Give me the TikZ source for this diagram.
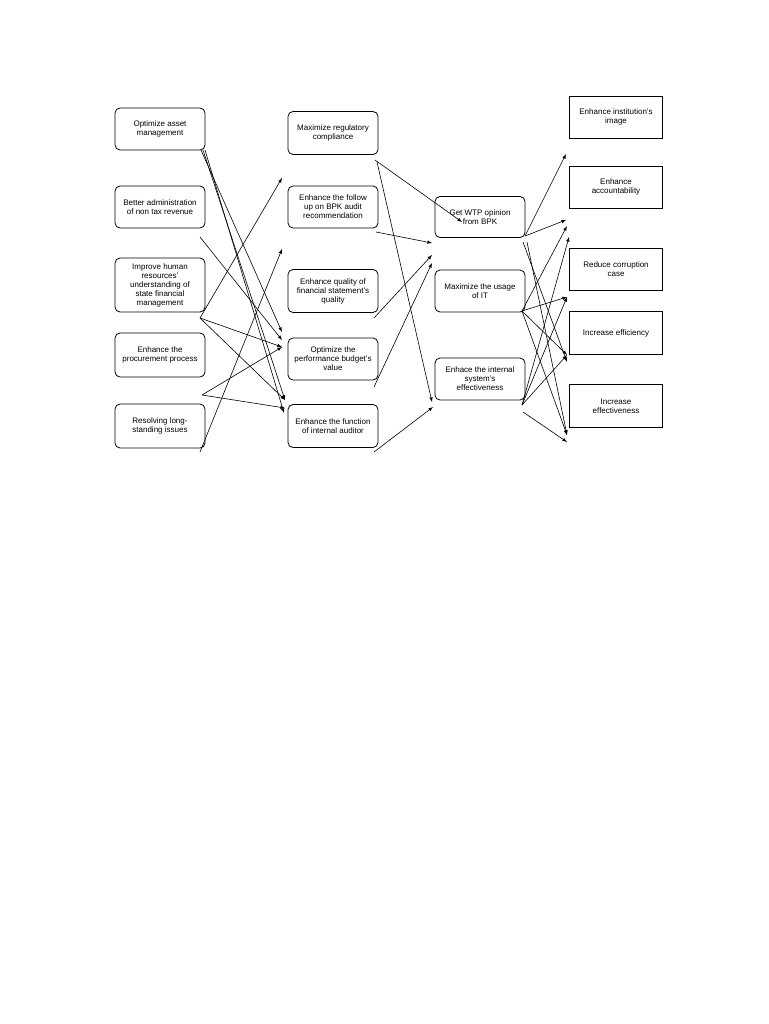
\documentclass[tikz,border=0pt]{standalone}
\usepackage{fontspec}
\setmainfont{Liberation Sans}
\begin{document}
\begin{tikzpicture}[x=1pt,y=-1pt,
  rb/.style={draw,rounded corners=5pt,line width=0.8pt,align=center,font=\fontsize{8}{9}\selectfont,inner sep=1pt},
  sb/.style={draw,line width=0.8pt,align=center,font=\fontsize{8}{9}\selectfont,inner sep=1pt},
  ar/.style={-latex,line width=0.6pt}]
\useasboundingbox (0,0) rectangle (768,1024);
\fill[white] (0,0) rectangle (768,1024);
% left
\node[rb,minimum width=90pt,minimum height=42pt] (a1) at (160,129) {Optimize asset\\management};
\node[rb,minimum width=90pt,minimum height=42pt] (a2) at (160,207) {Better administration\\of non tax revenue};
\node[rb,minimum width=90pt,minimum height=54pt] (a3) at (160,285) {Improve human\\resources'\\understanding of\\state financial\\management};
\node[rb,minimum width=90pt,minimum height=44pt] (a4) at (160,355) {Enhance the\\procurement process};
\node[rb,minimum width=90pt,minimum height=44pt] (a5) at (160,426) {Resolving long-\\standing issues};
% middle
\node[rb,minimum width=90pt,minimum height=43pt] (b1) at (333,133) {Maximize regulatory\\compliance};
\node[rb,minimum width=90pt,minimum height=42pt] (b2) at (333,207) {Enhance the follow\\up on BPK audit\\recommendation};
\node[rb,minimum width=90pt,minimum height=43pt] (b3) at (333,291) {Enhance quality of\\financial statement's\\quality};
\node[rb,minimum width=90pt,minimum height=42pt] (b4) at (333,359) {Optimize the\\performance budget's\\value};
\node[rb,minimum width=90pt,minimum height=43pt] (b5) at (333,426) {Enhance the function\\of internal auditor};
% third
\node[rb,minimum width=90pt,minimum height=41pt] (c1) at (480,217) {Get WTP opinion\\from BPK};
\node[rb,minimum width=90pt,minimum height=42pt] (c2) at (480,291) {Maximize the usage\\of IT};
\node[rb,minimum width=90pt,minimum height=42pt] (c3) at (480,379) {Enhace the internal\\system's\\effectiveness};
% right
\node[sb,minimum width=93pt,minimum height=42pt] (d1) at (616,117) {Enhance institution's\\image};
\node[sb,minimum width=93pt,minimum height=42pt] (d2) at (616,187) {Enhance\\accountability};
\node[sb,minimum width=93pt,minimum height=42pt] (d3) at (616,269) {Reduce corruption\\case};
\node[sb,minimum width=93pt,minimum height=43pt] (d4) at (616,333) {Increase efficiency};
\node[sb,minimum width=93pt,minimum height=43pt] (d5) at (616,406) {Increase\\effectiveness};
% coordinates
\coordinate (pa1a) at (201,150); \coordinate (pa1b) at (203,150); \coordinate (pa1c) at (205,150);
\coordinate (pa2) at (200,237); \coordinate (pa3) at (200,318); \coordinate (pa5) at (202,395);
\coordinate (pa6) at (200,452);
\coordinate (q1) at (282,332); \coordinate (q2) at (282,340); \coordinate (q3) at (282,347);
\coordinate (q4) at (285,400); \coordinate (q5) at (285,408); \coordinate (q6) at (284,413);
\coordinate (q7) at (282,178); \coordinate (q8) at (282,249);
\draw[ar] (pa1a) -- (q1);
\draw[ar] (pa1b) -- (q4);
\draw[ar] (pa1c) -- (q6);
\draw[ar] (pa2) -- (q2);
\draw[ar] (pa3) -- (q7);
\draw[ar] (pa3) -- (q3);
\draw[ar] (pa3) -- (q4);
\draw[ar] (pa5) -- (q3);
\draw[ar] (pa5) -- (q5);
\draw[ar] (pa6) -- (q8);
% middle to third
\coordinate (pb1) at (375,160); \coordinate (pb1b) at (377,162);
\coordinate (pb2) at (376,232); \coordinate (pb3) at (374,318); \coordinate (pb4) at (374,387); \coordinate (pb5) at (374,452);
\coordinate (r1) at (462,222); \coordinate (r2) at (432,402); \coordinate (r3) at (432,243);
\coordinate (r4) at (432,255); \coordinate (r5) at (432,263); \coordinate (r6) at (433,407);
\draw[ar] (pb1) -- (r1);
\draw[ar] (pb1b) -- (r2);
\draw[ar] (pb2) -- (r3);
\draw[ar] (pb3) -- (r4);
\draw[ar] (pb4) -- (r5);
\draw[ar] (pb5) -- (r6);
% third to right
\coordinate (pc1) at (525,236); \coordinate (pc1b) at (523,242); \coordinate (pc1c) at (527,242);
\coordinate (pc2) at (522,311); \coordinate (pc3) at (522,405); \coordinate (pc3b) at (523,412);
\coordinate (s1) at (566,154); \coordinate (s2) at (566,220); \coordinate (s3) at (569,237);
\coordinate (s4) at (567,297); \coordinate (s5) at (567,355); \coordinate (s6) at (567,362);
\coordinate (s7) at (567,435); \coordinate (s8) at (567,442); \coordinate (s9) at (567,226);
\draw[ar] (pc1) -- (s1);
\draw[ar] (pc1) -- (s2);
\draw[ar] (pc1b) -- (s6);
\draw[ar] (pc1c) -- (s7);
\draw[ar] (pc2) -- (s9);
\draw[ar] (pc2) -- (s4);
\draw[ar] (pc2) -- (s5);
\draw[ar] (pc2) -- (s7);
\draw[ar] (pc3) -- (s3);
\draw[ar] (pc3) -- (s4);
\draw[ar] (pc3) -- (s5);
\draw[ar] (pc3b) -- (s8);
\end{tikzpicture}
\end{document}
